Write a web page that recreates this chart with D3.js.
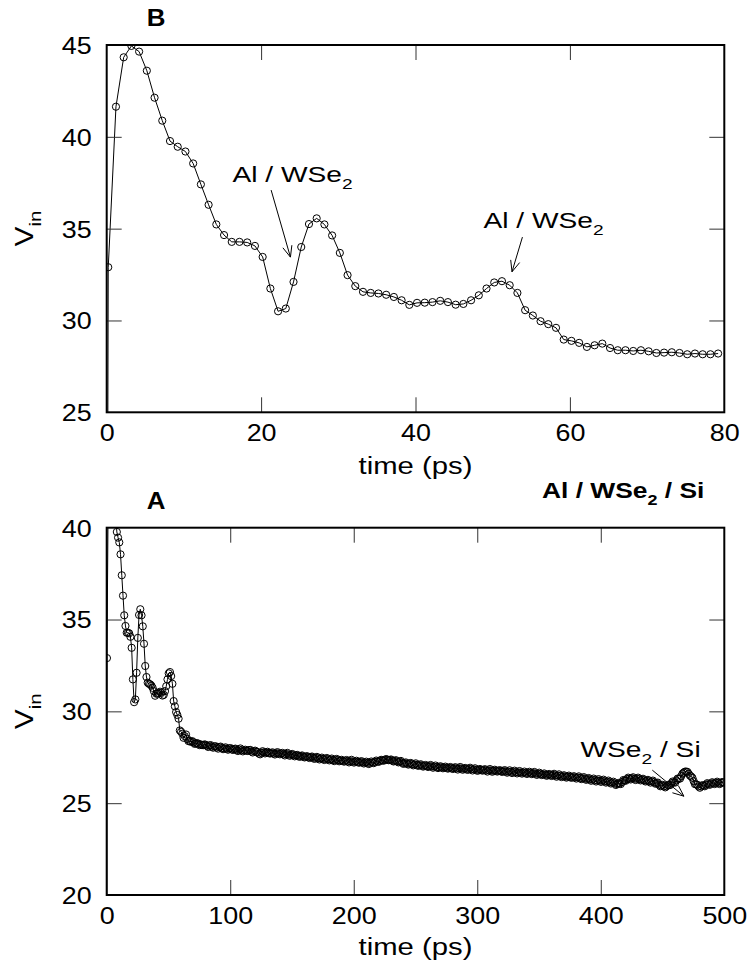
<!DOCTYPE html>
<head>
  <meta charset="utf-8">
  <script src="https://d3js.org/d3.v7.min.js"></script>
  <style>
    body { margin: 0; background: #fff; }
    svg { font-family: 'Liberation Sans', Arial, Helvetica, sans-serif; }
  </style>
</head>

<body>
  <svg width="751" height="972"></svg>
  <script>
    // V_in before the first sample (line comes up from below the axis)
    var vinStart = 0;

    // samples every 1 ps starting at 0.2 ps (0.2 .. 79.2)
    var earlyStart = 0.2, earlyStep = 1;
    var vinEarly = [
      32.9, 41.64, 44.33, 44.95, 44.64, 43.6, 42.13, 40.88, 39.77, 39.46,
      39.2, 38.55, 37.41, 36.3, 35.23, 34.65, 34.28, 34.28, 34.25, 34.06,
      33.46, 31.74, 30.5, 30.65, 32.1, 34.0, 35.25, 35.56, 35.23, 34.63,
      33.68, 32.47, 31.87, 31.56, 31.5, 31.47, 31.4, 31.28, 31.1, 30.85,
      30.96, 30.97, 31.0, 31.07, 31.0, 30.86, 30.9, 31.1, 31.37, 31.74,
      32.07, 32.14, 31.92, 31.5, 30.56, 30.27, 29.96, 29.8, 29.6, 28.96,
      28.89, 28.78, 28.56, 28.65, 28.74, 28.5, 28.38, 28.38, 28.34, 28.38,
      28.32, 28.23, 28.25, 28.27, 28.23, 28.16, 28.2, 28.16, 28.16, 28.2
    ];

    // long run, 1 ps samples from 80.2 to 499.2 (noisy band), 20 per row
    var lateStart = 80.2, lateStep = 1;
    var vinLate = [
      28.18, 28.12, 28.06, 28.14, 28.16, 28.07, 28.02, 28.09, 28.10, 28.03, 27.97, 28.05, 28.08, 28.00, 27.94, 27.99, 28.04, 27.96, 27.91, 27.98,
      28.00, 27.93, 27.90, 27.95, 27.97, 27.89, 27.84, 27.92, 27.98, 27.88, 27.82, 27.87, 27.91, 27.86, 27.84, 27.89, 27.90, 27.81, 27.76, 27.83,
      27.86, 27.80, 27.78, 27.70, 27.66, 27.75, 27.83, 27.77, 27.71, 27.76, 27.80, 27.74, 27.70, 27.73, 27.77, 27.70, 27.65, 27.72, 27.78, 27.71,
      27.66, 27.70, 27.74, 27.66, 27.60, 27.68, 27.74, 27.65, 27.58, 27.63, 27.68, 27.61, 27.55, 27.60, 27.63, 27.57, 27.52, 27.57, 27.60, 27.53,
      27.49, 27.53, 27.56, 27.50, 27.46, 27.51, 27.54, 27.47, 27.41, 27.47, 27.52, 27.44, 27.38, 27.43, 27.48, 27.41, 27.35, 27.41, 27.46, 27.39,
      27.33, 27.38, 27.43, 27.35, 27.29, 27.36, 27.41, 27.34, 27.28, 27.32, 27.36, 27.30, 27.26, 27.31, 27.35, 27.28, 27.22, 27.29, 27.36, 27.27,
      27.21, 27.26, 27.31, 27.25, 27.20, 27.24, 27.29, 27.22, 27.16, 27.21, 27.26, 27.19, 27.13, 27.20, 27.27, 27.22, 27.18, 27.25, 27.32, 27.27,
      27.25, 27.31, 27.36, 27.33, 27.31, 27.36, 27.40, 27.37, 27.34, 27.35, 27.38, 27.32, 27.27, 27.30, 27.34, 27.27, 27.22, 27.26, 27.30, 27.21,
      27.14, 27.18, 27.22, 27.15, 27.10, 27.15, 27.19, 27.12, 27.06, 27.11, 27.17, 27.09, 27.03, 27.07, 27.12, 27.05, 26.99, 27.03, 27.08, 27.02,
      26.97, 27.02, 27.08, 27.00, 26.93, 26.99, 27.05, 26.97, 26.91, 26.96, 27.01, 26.95, 26.90, 26.94, 26.99, 26.93, 26.88, 26.92, 26.97, 26.91,
      26.86, 26.91, 26.96, 26.89, 26.83, 26.90, 26.97, 26.89, 26.82, 26.87, 26.92, 26.86, 26.81, 26.87, 26.93, 26.85, 26.78, 26.84, 26.90, 26.82,
      26.76, 26.81, 26.86, 26.81, 26.77, 26.81, 26.85, 26.78, 26.72, 26.79, 26.86, 26.78, 26.71, 26.76, 26.82, 26.77, 26.72, 26.76, 26.80, 26.74,
      26.70, 26.75, 26.80, 26.72, 26.66, 26.72, 26.79, 26.71, 26.64, 26.70, 26.77, 26.69, 26.62, 26.68, 26.75, 26.67, 26.61, 26.66, 26.72, 26.65,
      26.59, 26.65, 26.71, 26.64, 26.58, 26.64, 26.70, 26.61, 26.54, 26.60, 26.66, 26.59, 26.53, 26.57, 26.62, 26.55, 26.49, 26.54, 26.59, 26.53,
      26.48, 26.54, 26.60, 26.51, 26.44, 26.50, 26.57, 26.49, 26.42, 26.47, 26.52, 26.45, 26.39, 26.44, 26.50, 26.43, 26.38, 26.42, 26.47, 26.40,
      26.34, 26.40, 26.46, 26.38, 26.31, 26.36, 26.42, 26.34, 26.27, 26.32, 26.37, 26.29, 26.22, 26.28, 26.34, 26.25, 26.18, 26.24, 26.31, 26.23,
      26.16, 26.22, 26.28, 26.19, 26.12, 26.17, 26.23, 26.14, 26.07, 26.12, 26.17, 26.07, 25.99, 26.04, 26.10, 26.07, 26.04, 26.15, 26.26, 26.23,
      26.22, 26.31, 26.39, 26.33, 26.29, 26.36, 26.41, 26.33, 26.26, 26.33, 26.39, 26.31, 26.24, 26.28, 26.33, 26.25, 26.18, 26.22, 26.27, 26.19,
      26.12, 26.18, 26.23, 26.14, 26.06, 26.09, 26.12, 26.01, 25.92, 25.96, 26.00, 25.92, 25.86, 25.92, 25.99, 25.98, 25.99, 26.09, 26.18, 26.14,
      26.12, 26.24, 26.34, 26.33, 26.34, 26.48, 26.61, 26.67, 26.72, 26.72, 26.70, 26.60, 26.50, 26.45, 26.38, 26.20, 26.04, 26.02, 26.00, 25.91,
      25.84, 25.91, 25.98, 25.95, 25.92, 26.01, 26.09, 26.04, 26.00, 26.07, 26.14, 26.09, 26.04, 26.11, 26.17, 26.10, 26.04, 26.10, 26.15, 26.12
    ];

    var ticksB = { x: [0, 20, 40, 60, 80], y: [25, 30, 35, 40, 45] };
    var ticksA = { x: [0, 100, 200, 300, 400, 500], y: [20, 25, 30, 35, 40] };

    var svg = d3.select('svg');
    var left = 106.7, right = 724.3;

    function samples(start, step, vals) {
      return vals.map(function(v, i) { return { t: start + i * step, v: v }; });
    }
    var ptsEarly = samples(earlyStart, earlyStep, vinEarly);
    var ptsLate = samples(lateStart, lateStep, vinLate);

    // text in this figure is a bit wider than the regular face
    function addText(g, o) {
      var size = o.size, sx = o.sx || 1;
      var tr = 'translate(' + [o.x, o.y] + ')' + (o.rotate ? 'rotate(' + o.rotate + ')' : '') +
        'scale(' + sx + ',1)';
      var t = g.append('text')
        .attr('transform', tr)
        .attr('font-size', size)
        .attr('font-weight', o.bold ? 'bold' : 'normal')
        .attr('text-anchor', o.anchor || 'start');
      var shift = 0;
      o.parts.forEach(function(p) {
        var sub = p[1];
        var want = sub ? size * 0.3 : 0;
        var ts = t.append('tspan').text(p[0]).attr('dy', want - shift);
        if (sub) ts.attr('font-size', size * 0.68);
        shift = want;
      });
      return t;
    }

    function arrow(g, x1, y1, x2, y2) {
      g.append('line')
        .attr('x1', x1).attr('y1', y1).attr('x2', x2).attr('y2', y2)
        .attr('stroke', '#000').attr('stroke-width', 1);
      var a = Math.atan2(y2 - y1, x2 - x1), len = 12, da = 0.4;
      var p = [a - da, a + da].map(function(b) {
        return [x2 - len * Math.cos(b), y2 - len * Math.sin(b)];
      });
      g.append('path')
        .attr('d', 'M' + p[0] + 'L' + [x2, y2] + 'L' + p[1])
        .attr('fill', 'none').attr('stroke', '#000').attr('stroke-width', 1);
    }

    function panel(cfg) {
      var x = d3.scaleLinear().domain(cfg.xDomain).range([left, right]);
      var y = d3.scaleLinear().domain(cfg.yDomain).range([cfg.bottom, cfg.top]);
      var g = svg.append('g');

      g.append('clipPath').attr('id', 'clip' + cfg.name)
        .append('rect')
        .attr('x', left).attr('y', cfg.top)
        .attr('width', right - left).attr('height', cfg.bottom - cfg.top);

      var plot = g.append('g').attr('clip-path', 'url(#clip' + cfg.name + ')');
      var line = d3.line()
        .x(function(d) { return x(d.t); })
        .y(function(d) { return y(d.v); });
      plot.append('path')
        .datum([{ t: 0, v: vinStart }].concat(cfg.pts))
        .attr('d', line)
        .attr('fill', 'none').attr('stroke', '#000').attr('stroke-width', 1);
      plot.selectAll('circle')
        .data(cfg.pts).enter().append('circle')
        .attr('cx', function(d) { return x(d.t); })
        .attr('cy', function(d) { return y(d.v); })
        .attr('r', 3.6)
        .attr('fill', 'none').attr('stroke', '#000').attr('stroke-width', 1);

      // axes: inward ticks on all four sides
      var xd = cfg.xDomain, yd = cfg.yDomain;
      function inner(axisG, dom) {
        axisG.select('.domain').remove();
        axisG.selectAll('.tick').filter(function(d) { return d === dom[0] || d === dom[1]; })
          .select('line').remove();
        axisG.selectAll('line').attr('stroke', '#333');
        axisG.selectAll('text').attr('fill', '#000').attr('font-size', 24)
          .attr('font-family', null);
      }
      var ab = g.append('g').attr('transform', 'translate(0,' + cfg.bottom + ')')
        .call(d3.axisBottom(x).tickValues(cfg.ticks.x).tickSizeInner(-15).tickSizeOuter(0).tickPadding(12));
      inner(ab, xd);
      ab.selectAll('text').attr('transform', 'scale(1.12,1)');
      var at = g.append('g').attr('transform', 'translate(0,' + cfg.top + ')')
        .call(d3.axisTop(x).tickValues(cfg.ticks.x).tickSizeInner(-15).tickSizeOuter(0).tickFormat(''));
      inner(at, xd);
      var al = g.append('g').attr('transform', 'translate(' + left + ',0)')
        .call(d3.axisLeft(y).tickValues(cfg.ticks.y).tickSizeInner(-15).tickSizeOuter(0).tickPadding(15));
      inner(al, yd);
      al.selectAll('text').attr('x', -15 / 1.12).attr('dy', '0.35em').attr('transform', 'scale(1.12,1)');
      var ar = g.append('g').attr('transform', 'translate(' + right + ',0)')
        .call(d3.axisRight(y).tickValues(cfg.ticks.y).tickSizeInner(-15).tickSizeOuter(0).tickFormat(''));
      inner(ar, yd);

      g.append('rect')
        .attr('x', left).attr('y', cfg.top)
        .attr('width', right - left).attr('height', cfg.bottom - cfg.top)
        .attr('fill', 'none').attr('stroke', '#000').attr('stroke-width', 2);

      addText(g, { x: (left + right) / 2, y: cfg.bottom + cfg.titleGap, size: 24, sx: 1.22,
        anchor: 'middle', parts: [['time (ps)']] });
      addText(g, { x: 33, y: (cfg.top + cfg.bottom) / 2, size: 25, sx: 1.2, rotate: -90,
        anchor: 'middle', parts: [['V'], ['in', true]] });
      addText(g, { x: 156, y: cfg.top - 19, size: 24, bold: true, sx: 1.08,
        anchor: 'middle', parts: [[cfg.name]] });

      cfg.notes.forEach(function(n) {
        addText(g, { x: x(n.tx), y: y(n.ty), size: 22, sx: 1.28, parts: n.parts });
        arrow(g, x(n.a[0]), y(n.a[1]), x(n.a[2]), y(n.a[3]));
      });
      return { x: x, y: y, g: g };
    }

    var pB = panel({
      name: 'B', xDomain: [0, 80], yDomain: [25, 45], top: 45, bottom: 412.3,
      ticks: ticksB, pts: ptsEarly, titleGap: 62,
      notes: [
        { tx: 16.3, ty: 37.53, parts: [['Al / WSe'], ['2', true]], a: [21.3, 37.1, 23.8, 33.45] },
        { tx: 48.8, ty: 35.03, parts: [['Al / WSe'], ['2', true]], a: [53.85, 34.54, 52.5, 32.65] }
      ]
    });

    var pA = panel({
      name: 'A', xDomain: [0, 500], yDomain: [20, 40], top: 527.7, bottom: 895,
      ticks: ticksA, pts: ptsEarly.concat(ptsLate), titleGap: 60,
      notes: [
        { tx: 383.6, ty: 27.5, parts: [['WSe'], ['2', true], [' / Si']], a: [441.7, 26.8, 467.3, 25.38] }
      ]
    });

    addText(pA.g, { x: 542, y: 498, size: 22, bold: true, sx: 1.2,
      parts: [['Al / WSe'], ['2', true], [' / Si']] });
  </script>
</body>
